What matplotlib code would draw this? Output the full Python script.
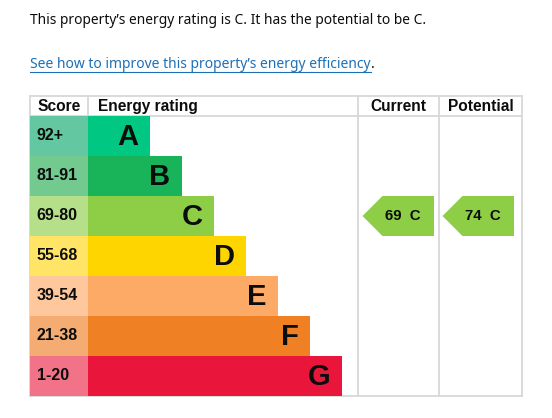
import matplotlib
matplotlib.use('Agg')
import matplotlib.pyplot as plt
from matplotlib.patches import Polygon

# ---- data ----
bands = ['A', 'B', 'C', 'D', 'E', 'F', 'G']
score_labels = ['92+', '81-91', '69-80', '55-68', '39-54', '21-38', '1-20']
band_min = [92, 81, 69, 55, 39, 21, 1]
bar_colors = ['#00c781', '#19b459', '#8dce46', '#ffd500', '#fcaa65', '#ef8023', '#e9153b']
score_colors = ['#63c7a2', '#72ca8f', '#b6df89', '#ffe465', '#fec79c', '#f5ac72', '#f27388']
headers = ['Score', 'Energy rating', 'Current', 'Potential']
current = 69
potential = 74
link_text = 'See how to improve this property\u2019s energy efficiency'


def band_index(v):
    for i, m in enumerate(band_min):
        if v >= m:
            return i
    return len(band_min) - 1


ci = band_index(current)
pi = band_index(potential)
intro = (f'This property\u2019s energy rating is {bands[ci]}. '
         f'It has the potential to be {bands[pi]}.')

# ---- layout ----
W, H = 552, 418
fig = plt.figure(figsize=(W / 100, H / 100), dpi=100)
ax = fig.add_axes([0, 0, 1, 1])
ax.set_xlim(0, W)
ax.set_ylim(H, 0)
ax.axis('off')

left, score_r = 30, 88
cur_l, pot_l, right = 357.5, 438.5, 521.5
top, head_b, row_h = 96, 116, 40
bar_w0, bar_step = 62, 32
grid_c = '#d8d8d8'
dark = '#0b0c0c'
bold_font = 'Liberation Sans'
body_font = 'Noto Sans'

rows = list(range(len(bands)))
yc = [head_b + row_h * (i + 0.5) for i in rows]
widths = [bar_w0 + bar_step * i for i in rows]

# score cells and bars
ax.barh(yc, [score_r - left] * len(rows), left=left, height=row_h,
        color=score_colors, edgecolor='none', zorder=2)
ax.barh(yc, widths, left=score_r, height=row_h,
        color=bar_colors, edgecolor='none', zorder=2)

for i in rows:
    ax.text(left + 6.5, yc[i], score_labels[i], ha='left', va='center',
            fontsize=11.5, fontweight='bold', family=bold_font, color=dark, zorder=3)
    ax.text(score_r + widths[i] - 11.5, yc[i] + 1, bands[i], ha='right', va='center',
            fontsize=21, fontweight='bold', family=bold_font, color=dark, zorder=3)

# grid lines
bottom = head_b + row_h * len(rows)
lw = 1.3
ax.plot([left, right], [top, top], color=grid_c, lw=lw, zorder=1)
ax.plot([left, right], [head_b, head_b], color=grid_c, lw=lw, zorder=1)
ax.plot([left, right], [bottom, bottom], color=grid_c, lw=lw, zorder=1)
ax.plot([left, left], [top, bottom], color=grid_c, lw=lw, zorder=1)
ax.plot([score_r, score_r], [top, head_b], color=grid_c, lw=lw, zorder=1)
for xv in (cur_l, pot_l, right):
    ax.plot([xv, xv], [top, bottom], color=grid_c, lw=lw, zorder=1)

# headers
hy = (top + head_b) / 2 + 0.5
hkw = dict(va='center', fontsize=11.2, fontweight='bold', family=bold_font, color=dark)
ax.text((left + score_r) / 2, hy, headers[0], ha='center', **hkw)
ax.text(score_r + 10, hy, headers[1], ha='left', **hkw)
ax.text((cur_l + pot_l) / 2, hy, headers[2], ha='center', **hkw)
ax.text((pot_l + right) / 2 + 1, hy, headers[3], ha='center', **hkw)


def arrow(col_l, col_r, value, pad_l, pad_r):
    b = band_index(value)
    t = head_b + row_h * b
    bt = t + row_h
    x0, x1 = col_l + pad_l, col_r - pad_r
    tip = 20
    poly = Polygon([(x0, (t + bt) / 2), (x0 + tip, t), (x1, t), (x1, bt), (x0 + tip, bt)],
                   closed=True, facecolor=bar_colors[b], edgecolor='none', zorder=2)
    ax.add_patch(poly)
    ax.text((x0 + x1) / 2 + 5, (t + bt) / 2 + 0.5, f'{value}  {bands[b]}', ha='center',
            va='center', fontsize=10.8, fontweight='bold', family=bold_font, color=dark, zorder=3)


arrow(cur_l, pot_l, current, 5, 4.5)
arrow(pot_l, right, potential, 4, 7.5)

# intro texts, fitted to the reference widths
fig.canvas.draw()
r = fig.canvas.get_renderer()


def fitted(x, y, s, target_w, color, fs0=12):
    t = ax.text(x, y, s, ha='left', va='baseline', fontsize=fs0, family=body_font, color=color)
    w = t.get_window_extent(r).width
    t.set_fontsize(fs0 * target_w / w)
    return t


fitted(30, 24.5, intro, 395, dark)
lt = fitted(30, 68.5, link_text, 339.5, '#1d70b8')
fig.canvas.draw()
bb = lt.get_window_extent(r)
x_end = bb.x1
ax.plot([30, x_end], [72, 72], color='#1d70b8', lw=0.8)
ax.text(x_end + 0.5, 68.5, '.', ha='left', va='baseline', fontsize=lt.get_fontsize(),
        family=body_font, color=dark)

fig.savefig('out.png', dpi=100)
